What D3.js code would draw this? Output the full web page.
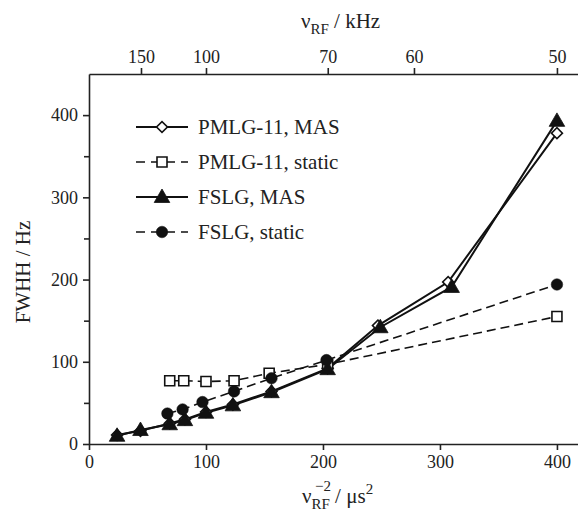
<!DOCTYPE html>
<html>
<head>
<meta charset="utf-8">
<script src="https://cdn.jsdelivr.net/npm/d3@7"></script>
<style>
  body { margin: 0; background: #fff; }
  svg text { font-family: "Liberation Serif", "Times New Roman", serif; fill: #222; }
</style>
</head>
<body>
<div id="chart"></div>
<script>
// chart size
const width = 578;
const height = 512;

// data (x = nu_RF^-2 in us^2, y = FWHH in Hz)
const pmlgMasX = [24, 44, 69, 82, 100, 123, 156, 204, 247, 307, 400];
const pmlgMasY = [11, 16, 25, 30, 39, 48, 64, 92, 144, 197, 378];
const pmlgStaticX = [69, 81, 100, 124, 154, 204, 400];
const pmlgStaticY = [77, 77, 76, 77, 86, 97, 155];
const fslgMasX = [24, 44, 69, 82, 100, 123, 156, 204, 249, 310, 400];
const fslgMasY = [10, 17, 24, 29, 38, 47, 63, 91, 142, 191, 393];
const fslgStaticX = [67, 80, 97, 124, 156, 203, 400];
const fslgStaticY = [37, 42, 51, 64, 80, 102, 194];

const xTicks = [0, 100, 200, 300, 400];
const yTicks = [0, 100, 200, 300, 400];
const yMinorTicks = [50, 150, 250, 350];
const topTicksKHz = [150, 100, 70, 60, 50];
const legendLabels = ["PMLG-11, MAS", "PMLG-11, static", "FSLG, MAS", "FSLG, static"];

const svg = d3.select('#chart')
  .append('svg')
  .attr('width', width)
  .attr('height', height);

// scales
const x = d3.scaleLinear().domain([0, 418]).range([89, 578]);
const y = d3.scaleLinear().domain([0, 450]).range([444, 74]);

// bottom axis
svg.append('g')
  .attr('transform', `translate(0,${y(0)})`)
  .call(d3.axisBottom(x).tickValues(xTicks).tickSize(6).tickSizeOuter(0).tickPadding(5));

// top axis (nu_RF in kHz -> 1/nu^2 in us^2)
svg.append('g')
  .attr('transform', `translate(0,${y(450)})`)
  .call(d3.axisTop(x)
    .tickValues(topTicksKHz.map(k => 1e6 / (k * k)))
    .tickFormat((d, i) => topTicksKHz[i])
    .tickSize(6).tickSizeOuter(0).tickPadding(5));

// left axis
svg.append('g')
  .attr('transform', `translate(${x(0)},0)`)
  .call(d3.axisLeft(y).tickValues(yTicks).tickSize(6).tickSizeOuter(0).tickPadding(5));

svg.append('g')
  .attr('transform', `translate(${x(0)},0)`)
  .call(d3.axisLeft(y).tickValues(yMinorTicks).tickSize(5).tickSizeOuter(0).tickFormat(''))
  .select('.domain').remove();

svg.selectAll('.domain').attr('stroke', '#222').attr('stroke-width', 1.6);
svg.selectAll('.tick line').attr('stroke', '#222').attr('stroke-width', 1.6);
svg.selectAll('.tick text')
  .style('font-family', '"Liberation Serif", serif')
  .style('font-size', '18px')
  .attr('fill', '#222');

// axis titles
svg.append('text')
  .attr('transform', `translate(30,272) rotate(-90)`)
  .attr('text-anchor', 'middle')
  .style('font-size', '21px')
  .text('FWHH / Hz');

const topTitle = svg.append('text')
  .attr('x', 301)
  .attr('y', 28)
  .style('font-size', '21px');
topTitle.append('tspan').text('ν');
topTitle.append('tspan').attr('dy', 6).style('font-size', '15px').text('RF');
topTitle.append('tspan').attr('dy', -6).text(' / kHz');

const botTitle = svg.append('text')
  .attr('x', 302)
  .attr('y', 503)
  .style('font-size', '21px');
botTitle.append('tspan').text('ν');
botTitle.append('tspan').attr('dy', 6).style('font-size', '15px').text('RF');
botTitle.append('tspan').attr('dy', -6).text(' / μs');
botTitle.append('tspan').attr('dy', -9).style('font-size', '15px').text('2');
svg.append('text')
  .attr('x', 315)
  .attr('y', 491)
  .style('font-size', '15px')
  .text('−2');

// series definitions
const series = [
  { xs: pmlgMasX, ys: pmlgMasY, dash: null, marker: 'diamond' },
  { xs: pmlgStaticX, ys: pmlgStaticY, dash: '9,5', marker: 'square' },
  { xs: fslgMasX, ys: fslgMasY, dash: null, marker: 'triangle' },
  { xs: fslgStaticX, ys: fslgStaticY, dash: '9,5', marker: 'circle' }
];

const symbolOf = {
  diamond: d3.symbol().type(d3.symbolSquare).size(60),
  square: d3.symbol().type(d3.symbolSquare).size(100),
  triangle: d3.symbol().type(d3.symbolTriangle).size(105),
  circle: d3.symbol().type(d3.symbolCircle).size(105)
};

function drawMarker(g, type, cx, cy) {
  const p = g.append('path')
    .attr('d', symbolOf[type]())
    .attr('stroke', '#111')
    .attr('stroke-width', 1.6);
  if (type === 'diamond') {
    p.attr('transform', `translate(${cx},${cy}) rotate(45)`).attr('fill', '#fff');
  } else if (type === 'square') {
    p.attr('transform', `translate(${cx},${cy})`).attr('fill', '#fff');
  } else if (type === 'triangle') {
    p.attr('transform', `translate(${cx},${cy + 1})`).attr('fill', '#111').attr('stroke-width', 0.8);
  } else {
    p.attr('transform', `translate(${cx},${cy})`).attr('fill', '#111').attr('stroke-width', 0.5);
  }
}

const line = d3.line().x(d => x(d[0])).y(d => y(d[1]));

// lines
series.forEach(s => {
  const pts = s.xs.map((v, i) => [v, s.ys[i]]);
  svg.append('path')
    .datum(pts)
    .attr('d', line)
    .attr('fill', 'none')
    .attr('stroke', '#111')
    .attr('stroke-width', s.dash ? 1.6 : 2)
    .attr('stroke-dasharray', s.dash);
});

// markers
series.forEach(s => {
  const g = svg.append('g');
  s.xs.forEach((v, i) => drawMarker(g, s.marker, x(v), y(s.ys[i])));
});

// legend
const legendY = [127, 162, 197, 232];
series.forEach((s, i) => {
  const g = svg.append('g');
  g.append('line')
    .attr('x1', 136).attr('x2', 188)
    .attr('y1', legendY[i]).attr('y2', legendY[i])
    .attr('stroke', '#111')
    .attr('stroke-width', s.dash ? 1.6 : 2)
    .attr('stroke-dasharray', s.dash ? '9,6' : null);
  drawMarker(g, s.marker, 162, legendY[i]);
  g.append('text')
    .attr('x', 198)
    .attr('y', legendY[i] + 7)
    .style('font-size', '21px')
    .text(legendLabels[i]);
});
</script>
</body>
</html>
